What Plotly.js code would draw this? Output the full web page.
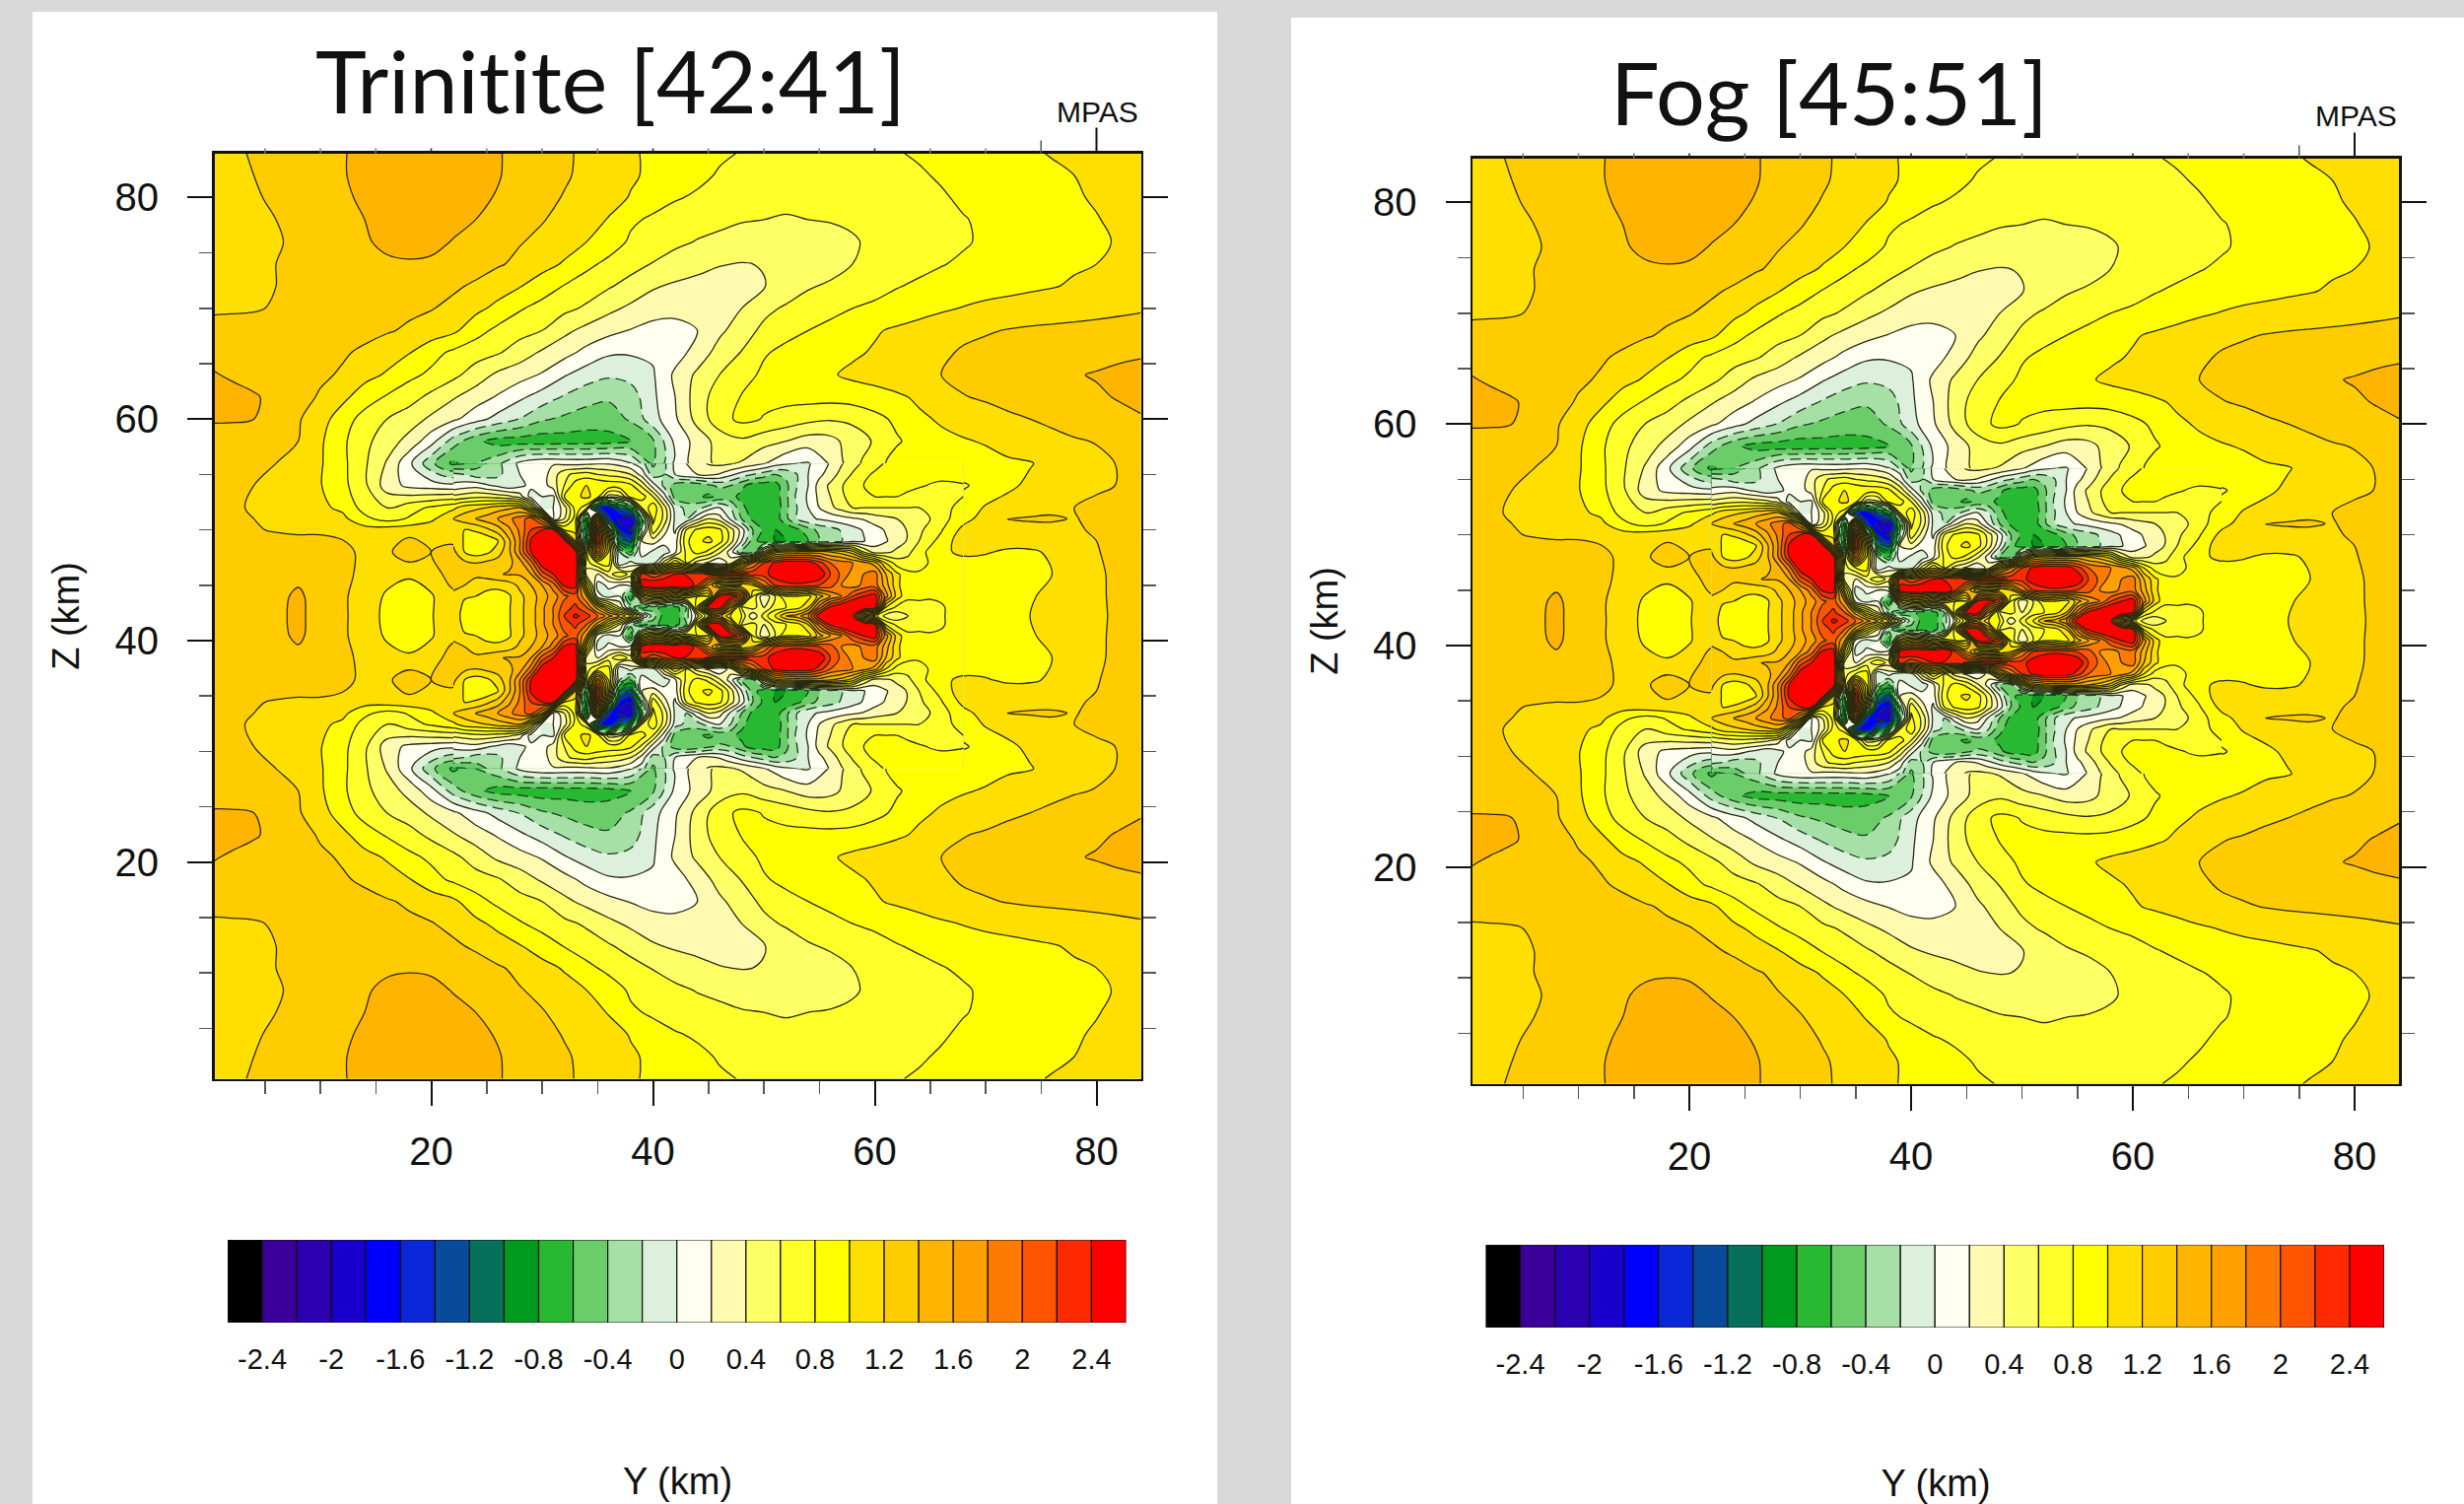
<!DOCTYPE html>
<html><head><meta charset="utf-8">
<script src="https://cdn.plot.ly/plotly-3.0.1.min.js"></script>
<style>html,body{margin:0;padding:0;background:#d9d9d9}#c{width:2500px;height:1526px}svg text.annotation-text{font-variant-ligatures:none !important;letter-spacing:0.01px !important}</style>
</head><body><div id="c"></div>
<script>
const columnsKm=[0.44,2,4,6,8,10,12,14,16,18,20,22,24,26,28,30,32,34,36,38,40,42,44,46,48,50,52,54,56,58,60,62,64,66,68,70,72,74,76,78,80,82,84];
const rowsKm=[84,82,80,78,76,74,72,70,68,66,64,62,60,58,56,54,52,51,50,48,46,44,42.22];
const r84=[1.10,1.16,1.22,1.25,1.30,1.34,1.39,1.44,1.48,1.5,1.5,1.48,1.45,1.41,1.36,1.30,1.23,1.16,1.1,1.02,.97,.93,.88,.83,.79,.76,.74,.73,.73,.74,.76,.79,.82,.85,.88,.91,.94,.98,1.01,1.04,1.07,1.1,1.12];
const r82=[1.12,1.16,1.2,1.25,1.3,1.34,1.39,1.44,1.48,1.5,1.5,1.48,1.46,1.41,1.35,1.28,1.22,1.16,1.08,1.02,.97,.91,.85,.78,.74,.71,.69,.68,.68,.69,.71,.74,.78,.82,.86,.89,.92,.95,.97,1.0,1.04,1.08,1.11];
const r80=[1.14,1.16,1.18,1.23,1.28,1.32,1.37,1.43,1.48,1.5,1.5,1.47,1.43,1.39,1.32,1.25,1.19,1.12,1.06,.99,.88,.82,.77,.71,.68,.65,.63,.62,.63,.65,.67,.71,.75,.78,.83,.87,.9,.93,.96,.98,1.02,1.06,1.1];
const r78=[1.14,1.16,1.18,1.2,1.25,1.28,1.33,1.4,1.45,1.48,1.48,1.45,1.4,1.34,1.26,1.21,1.15,1.07,.99,.83,.77,.7,.67,.64,.61,.6,.59,.6,.61,.63,.66,.69,.72,.76,.79,.83,.87,.9,.93,.96,.99,1.04,1.09];
const r76=[1.16,1.16,1.17,1.19,1.22,1.26,1.31,1.38,1.44,1.47,1.45,1.39,1.33,1.27,1.21,1.16,1.08,1.0,.9,.77,.7,.64,.59,.56,.54,.53,.52,.52,.54,.58,.64,.68,.71,.75,.78,.83,.87,.91,.94,.96,.98,1.01,1.07];
const r74=[1.18,1.18,1.19,1.2,1.21,1.24,1.28,1.33,1.37,1.38,1.37,1.33,1.28,1.22,1.16,1.07,.98,.85,.75,.67,.59,.52,.46,.41,.39,.41,.44,.47,.52,.6,.66,.71,.75,.79,.83,.87,.91,.94,.96,.98,1.0,1.04,1.09];
const r72=[1.16,1.17,1.19,1.2,1.22,1.24,1.27,1.29,1.31,1.31,1.28,1.23,1.17,1.09,1.01,.9,.79,.7,.62,.53,.42,.37,.34,.32,.34,.39,.47,.58,.63,.68,.73,.79,.83,.87,.9,.93,.95,.97,.99,1.02,1.04,1.07,1.11];
const r70=[1.17,1.18,1.19,1.21,1.23,1.24,1.25,1.26,1.26,1.24,1.21,1.15,1.05,.95,.82,.73,.65,.57,.45,.36,.3,.27,.27,.31,.4,.54,.63,.69,.75,.8,.84,.88,.92,.97,1.01,1.04,1.06,1.08,1.1,1.12,1.14,1.16,1.18];
const r68=[1.27,1.26,1.25,1.26,1.27,1.27,1.26,1.25,1.22,1.17,1.11,1.04,.88,.75,.67,.6,.45,.34,.26,.19,.12,.12,.2,.36,.5,.65,.74,.8,.85,.91,.98,1.03,1.08,1.13,1.16,1.18,1.21,1.23,1.24,1.25,1.26,1.27,1.28];
const r66=[1.35,1.34,1.31,1.29,1.27,1.25,1.22,1.17,1.08,1.01,.87,.76,.68,.62,.5,.37,.27,.14,.03,.02,.03,.11,.28,.48,.61,.78,.85,.9,.94,.97,1.02,1.07,1.12,1.17,1.22,1.26,1.28,1.3,1.32,1.33,1.35,1.37,1.38];
const r64=[1.41,1.38,1.33,1.3,1.26,1.23,1.18,1.06,.98,.85,.76,.65,.51,.36,.28,.18,.02,-.1,-.17,-.13,-.02,.24,.44,.6,.72,.84,.9,.94,.98,1.04,1.08,1.12,1.16,1.2,1.26,1.3,1.33,1.35,1.37,1.39,1.41,1.43,1.45];
const r62=[1.45,1.45,1.42,1.35,1.27,1.18,1.05,.9,.78,.68,.55,.42,.3,.18,.04,-.09,-.22,-.32,-.37,-.3,-.04,.2,.5,.7,.81,.84,.86,.87,.87,.89,.92,.97,1.03,1.08,1.19,1.23,1.27,1.31,1.34,1.36,1.38,1.41,1.46];
const r60=[1.42,1.42,1.4,1.3,1.22,1.08,.9,.72,.6,.5,.36,.24,.08,-.07,-.21,-.37,-.44,-.5,-.5,-.37,-.08,.17,.47,.72,.85,.79,.72,.66,.62,.64,.74,.84,.97,1.02,1.05,1.1,1.16,1.2,1.25,1.29,1.33,1.36,1.38];
const r58=[1.31,1.3,1.28,1.25,1.2,1.03,.84,.65,.5,.33,.08,-.3,-.55,-.68,-.7,-.72,-.7,-.7,-.68,-.62,-.43,.05,.28,.48,.56,.47,.4,.3,.33,.5,.62,.78,.87,.96,.99,1.01,1.05,1.1,1.13,1.18,1.21,1.25,1.28];
const r56=[1.26,1.26,1.24,1.2,1.12,1.02,.85,.63,.38,.05,-.35,-.65,-.4,-.25,.05,.17,.15,.15,.18,.02,-.45,.05,.3,.45,.38,.22,.03,-.02,.22,.52,.73,.87,.9,.91,.93,.96,.98,.99,1.05,1.1,1.15,1.21,1.26];
const r54=[1.27,1.26,1.2,1.16,1.1,1.01,.86,.64,.3,.15,.1,.05,.14,.18,.1,.2,.45,.7,.75,.72,.55,.15,-.15,-.28,-.3,-.45,-.35,-.1,.08,.25,.45,.65,.75,.78,.78,.86,.97,1.03,1.08,1.12,1.15,1.21,1.25];
const r52=[1.28,1.23,1.18,1.17,1.12,1.04,.96,.72,.6,.72,.83,.95,1.0,1.25,1.6,1.0,.1,-1.5,-1.0,-1.9,.5,.25,0,-.1,-.25,-.62,-.65,-.55,-.3,-.05,.12,.3,.5,.73,.88,1.02,1.06,1.1,1.16,1.2,1.27,1.3,1.33];
const r51=[1.28,1.25,1.2,1.18,1.15,1.1,1.05,.85,.72,.82,.95,1.2,1.4,1.6,1.9,2.2,-.3,-1.0,-1.5,-2.0,.85,-.05,.15,.3,-.4,-.75,-.45,-.05,.07,.17,.3,.4,.53,.74,.95,1.06,1.21,1.22,1.22,1.19,1.24,1.3,1.33];
const r50=[1.28,1.27,1.21,1.19,1.18,1.18,1.15,1.08,1.1,1.12,1.15,1.1,.95,1.5,2.2,2.55,2.3,.5,-.5,-2.0,.6,-.1,.8,.9,.1,-.5,-.7,-.45,-.28,-.08,.1,.3,.55,.78,1.04,1.1,1.12,1.14,1.15,1.18,1.22,1.3,1.34];
const r48=[1.3,1.3,1.3,1.28,1.27,1.27,1.26,1.15,1.15,1.35,1.2,1.25,1.0,1.3,2.0,2.5,2.6,.6,1.5,.2,0,-.1,.6,.4,-1.5,1.3,1.8,2.0,2.0,1.5,.6,.2,.35,.92,1.02,1.01,.98,.98,1.02,1.1,1.18,1.3,1.35];
const r46=[1.32,1.32,1.33,1.34,1.37,1.33,1.25,1.15,1.05,1.02,1.1,1.3,1.25,1.35,1.6,2.3,2.55,1.0,0,-.5,1.0,1.0,.8,1.8,2.3,2.3,2.5,2.55,2.25,2.1,1.6,.9,.55,.86,.9,.92,.93,.95,1.0,1.07,1.15,1.27,1.36];
const r44=[1.33,1.33,1.33,1.37,1.42,1.35,1.24,1.08,.98,.93,.98,1.15,.95,.92,1.5,1.9,2.15,1.2,.1,-.6,-.3,.6,1.5,2.5,.6,.8,.6,1.0,2.1,2.55,1.5,.5,.45,.83,.87,.9,.93,.98,1.05,1.1,1.16,1.25,1.36];
const r42=[1.33,1.33,1.33,1.38,1.42,1.36,1.24,1.08,.96,.9,.99,1.1,.98,.88,1.3,1.7,2.25,2.2,1.6,-.5,-.7,-.3,1.0,.9,.3,.6,1.0,1.5,2.6,2.6,1.2,.35,.35,.78,.87,.9,.93,1.0,1.06,1.1,1.16,1.24,1.36];
const upperRows=[r84,r82,r80,r78,r76,r74,r72,r70,r68,r66,r64,r62,r60,r58,r56,r54,r52,r51,r50,r48,r46,r44,r42];

// finer reading of the core, km 22..68 every km
const coreColumnsKm=[22,23,24,25,26,27,28,29,30,31,32,33,34,35,36,37,38,39,40,41,42,43,44,45,46,47,48,49,50,51,52,53,54,55,56,57,58,59,60,61,62,63,64,65,66,67,68];
const coreRowsKm=[56,55,54,53,52,51,50,49,48,47,46,45,44,43,42.22];
const p56=[-.65,-.62,-.5,-.4,-.25,-.1,.05,.12,.17,.18,.15,.13,.15,.18,.18,.12,.02,-.12,-.45,-.25,.05,.2,.3,.42,.45,.42,.38,.3,.22,.1,.03,0,-.02,.08,.22,.38,.52,.63,.73,.82,.87,.89,.9,.9,.91,.92,.93];
const p55=[-.15,-.2,-.3,-.3,-.25,-.12,0,.1,.1,.3,.55,.65,.7,.6,.55,.5,.4,.12,-.3,-.2,0,.15,.2,.25,.18,.05,-.1,-.2,-.3,-.4,-.35,-.2,0,.15,.3,.47,.62,.75,.83,.88,.88,.87,.86,.85,.86,.88,.9];
const p54=[.05,.1,.12,.03,-.05,-.15,-.05,.05,.1,.3,.6,.9,1.0,1.0,.95,.95,.85,.55,.1,-.25,-.5,-.6,-.55,-.45,-.35,-.4,-.55,-.7,-.7,-.7,-.45,-.2,0,.28,.44,.58,.72,.8,.86,.87,.87,.85,.82,.79,.76,.76,.78];
const p53=[.45,.5,.55,.55,.5,.45,.3,-.1,0,-.05,.8,.95,1.05,.9,.3,.35,.9,.9,.6,.1,-.5,-.6,-.55,-.65,-.55,-.55,-.65,-.75,-.75,-.72,-.45,-.15,.03,.25,.4,.55,.72,.8,.8,.8,.8,.76,.72,.72,.72,.74,.8];
const p52=[.95,1.1,1.15,1.2,1.3,1.35,1.4,.8,-.1,0,.3,.9,.7,-1.5,-1.8,-1.2,-.8,.6,.95,.5,-.1,-.25,-.3,-.1,0,-.2,-.55,-.7,-.75,-.78,-.45,-.2,0,.2,.35,.48,.6,.6,.6,.6,.6,.6,.6,.65,.7,.8,.88];
const p51=[1.2,1.3,1.4,1.5,1.6,1.75,1.9,2.1,1.6,0,.4,.9,-1.0,1.9,-1.5,-1.9,-2.0,-.6,.85,.55,-.05,-.2,.15,.4,.3,-.05,-.4,-.65,-.75,-.72,-.45,-.2,-.05,.02,.07,.12,.17,.22,.3,.35,.4,.47,.53,.6,.74,.82,.95];
const p50=[1.1,1.0,1.03,1.15,1.3,1.55,1.85,2.2,2.4,2.45,1.0,.9,-1,2.5,.5,-1.6,-1.9,-.3,.75,.3,-.05,.6,.85,.92,.85,.5,.1,-.4,-.65,-.8,-.78,-.65,-.48,-.35,-.28,-.18,-.08,.02,.12,.22,.3,.42,.55,.68,.78,.95,1.04];
const p49=[1.15,.98,.85,.85,.98,1.35,1.8,2.45,2.6,2.7,2.55,1.2,-.8,2.6,1.0,-1.0,-1.3,.2,.3,.1,.1,.75,.95,1.05,.9,.5,0,-.5,-.75,-.8,-.8,-.75,-.6,-.4,-.3,-.22,-.05,-.02,.1,.18,.3,.42,.6,.75,.87,1.0,1.03];
const p48=[1.25,1.0,.9,.95,1.1,1.35,1.8,2.4,2.7,2.8,2.8,2.55,.5,2.0,1.0,-.2,-.6,.15,-.05,-.15,.15,.65,.9,.75,.45,.1,-.4,-.5,.5,1.3,1.4,1.45,1.5,1.5,1.4,1.3,1.1,.6,.3,.35,.45,.55,.72,.85,.92,1.0,1.02];
const p47=[1.32,1.25,1.2,1.25,1.3,1.35,1.5,1.9,2.55,2.8,2.9,2.7,.5,.8,.9,-.2,.1,-.2,-.1,.5,1.0,.6,.3,.15,0,.3,1.2,1.8,2.2,2.45,2.6,2.6,2.55,2.3,2.0,1.9,1.8,1.7,1.5,1.0,.7,.68,.72,.82,.88,.92,.97];
const p46=[1.3,1.28,1.25,1.3,1.38,1.42,1.42,1.6,2.1,2.4,2.8,2.7,.3,.2,.5,.8,.5,2.3,2.0,2.2,2.4,2.35,2.3,2.45,2.5,2.55,2.5,2.35,2.3,2.55,2.7,2.7,2.7,2.6,2.2,1.95,1.72,1.8,1.9,1.4,1.05,.85,.83,.85,.86,.88,.9];
const p45=[1.25,1.2,1.1,1.05,1.05,1.1,1.25,1.4,1.6,1.9,2.45,2.5,1.0,-.1,.05,0,.1,2.5,2.7,2.7,2.65,2.8,2.2,1.6,1.0,.9,1.0,1.2,1.8,2.2,2.3,2.35,2.3,2.2,2.1,1.8,1.7,1.85,1.9,1.5,1.05,.85,.84,.84,.85,.87,.9];
const p44=[1.15,1.02,1.0,.95,.92,.97,1.15,1.3,1.5,1.7,1.95,2.1,1.6,.1,-.1,0,-.8,.8,1.2,1.2,.8,1.0,.8,.8,2.45,2.55,2.3,.8,.2,.6,1.0,1.0,.9,1.3,1.6,1.8,2.2,2.4,2.55,1.7,1.1,.85,.85,.83,.83,.85,.87];
const p43=[1.12,.95,.9,.85,.88,.98,1.15,1.3,1.55,1.8,2.1,2.25,2.0,1.5,.9,.4,-.3,-.7,-.5,-.7,-.7,-.4,1.0,2.5,2.55,1.6,.6,.7,.4,.7,.8,.9,1.2,1.9,2.45,2.7,2.8,2.7,2.45,1.0,.75,.7,.72,.72,.78,.84,.87];
const p42=[1.1,.93,.88,.85,.86,.98,1.15,1.3,1.55,1.8,2.2,2.45,2.3,2.0,1.7,1.4,1.0,.3,-.3,-.7,-.8,-.3,.3,1.0,1.5,1.0,.8,.2,.7,1.0,1.4,1.5,1.8,2.6,2.8,2.8,2.5,1.2,.9,.5,.45,.6,.72,.74,.78,.84,.87];
const coreRows=[p56,p55,p54,p53,p52,p51,p50,p49,p48,p47,p46,p45,p44,p43,p42];

const bandColors=['#000000','#3a0099','#2a00b0','#1a00cc','#0000ff','#0a28d8','#084b9b','#07705a','#009b1e','#28b832','#6acd6a','#a6e0a6','#dcf0dc','#fffff0','#fffab0','#ffff66','#ffff2a','#ffff00','#ffdf00','#ffcc00','#ffb400','#ff9f00','#ff7a00','#ff5500','#ff2a00','#ff0000'];
const bandCentres=[-2.5,-2.3,-2.1,-1.9,-1.7,-1.5,-1.3,-1.1,-0.9,-0.7,-0.5,-0.3,-0.1,0.1,0.3,0.5,0.7,0.9,1.1,1.3,1.5,1.7,1.9,2.1,2.3,2.5];
const barTicks=[-2.4,-2,-1.6,-1.2,-0.8,-0.4,0,0.4,0.8,1.2,1.6,2,2.4];
const barLabels=['-2.4','-2','-1.6','-1.2','-0.8','-0.4','0','0.4','0.8','1.2','1.6','2','2.4'];
const titles=['Trinitite [42:41]','Fog [45:51]'];
const topTicks=[5,10,15,20,25,30,35,40,45,50,55,60,65,70];

// the field is mirror-symmetric about mid-height in the picture (z = 42.22)
const mirrorZ=rows=>rows.concat(rows.slice(0,-1).reverse()).reverse();
const mirrorY=ys=>ys.concat(ys.slice(0,-1).reverse().map(v=>84.44-v)).reverse();
const cs=bandColors.map((c,i)=>[i/25,c]);
const W=2500,H=1526,FONT='"Liberation Sans",Arial,sans-serif';
const px=(a,b)=>[a/W,b/W], py=(a,b)=>[1-b/H,1-a/H];
const panels=[{dx:0,dy:0,s:'',b:'3',tx:619,ty:81},{dx:1276.5,dy:5,s:'2',b:'4',tx:1856,ty:93}];
const traces=[],layout={width:W,height:H,margin:{l:0,r:0,t:0,b:0},paper_bgcolor:'#d9d9d9',plot_bgcolor:'#fff',showlegend:false,
 shapes:[{type:'rect',xref:'paper',yref:'paper',x0:33/W,x1:1235/W,y0:0,y1:1-12/H,fillcolor:'#fff',line:{width:0},layer:'below'},
         {type:'rect',xref:'paper',yref:'paper',x0:1310/W,x1:1,y0:0,y1:1-18/H,fillcolor:'#fff',line:{width:0},layer:'below'}],
 annotations:[]};
panels.forEach((p,k)=>{
 const xa='x'+p.s,ya='y'+p.s,xk='xaxis'+p.s,yk='yaxis'+p.s;
 const ax={xaxis:xa,yaxis:ya,type:'contour',showscale:false,autocontour:false,hoverinfo:'skip'};
 [{x:columnsKm,y:mirrorY(rowsKm),z:mirrorZ(upperRows)},{x:coreColumnsKm,y:mirrorY(coreRowsKm),z:mirrorZ(coreRows)}].forEach(g=>{
  const base={...ax,...g};
  traces.push({...base,colorscale:cs,zmin:-2.5,zmax:2.5,contours:{start:-2.4,end:2.4,size:0.2,coloring:'fill',showlines:false},line:{width:0,smoothing:1}});
  traces.push({...base,contours:{start:0,end:2.4,size:0.2,coloring:'none'},line:{width:1.3,color:'#2a2a10',smoothing:1}});
  traces.push({...base,contours:{start:-2.4,end:-0.2,size:0.2,coloring:'none'},line:{width:1.3,color:'#1a3a1a',dash:'11px,6px',smoothing:1}});
 });
 const axCommon={range:[0.44,84],tickvals:[20,40,60,80],ticktext:['20','40','60','80'],tickmode:'array',ticks:'outside',ticklen:25,tickwidth:2,tickcolor:'#111',
   showline:true,linewidth:2.5,linecolor:'#111',showgrid:false,zeroline:false,tickfont:{family:FONT,size:40,color:'#111'},
   minor:{dtick:5,tick0:0,ticks:'outside',ticklen:13,tickwidth:1.5,tickcolor:'#555',showgrid:false}};
 layout[xk]={...axCommon,mirror:true,ticklabelstandoff:12,anchor:ya,domain:px(217.5+p.dx,1157.5+p.dx),title:{text:'Y (km)',font:{family:FONT,size:38,color:'#111'},standoff:301}};
 layout[yk]={...axCommon,mirror:'ticks',ticklabelstandoff:21,anchor:xa,domain:py(155.5+p.dy,1094.5+p.dy),title:{text:'Z (km)',font:{family:FONT,size:38,color:'#111'},standoff:24}};
 const topY=1-(155.5+p.dy)/H;
 topTicks.forEach(v=>layout.shapes.push({type:'line',xref:xa,yref:'paper',x0:v,x1:v,y0:topY,y1:topY+5/H,line:{color:v%20?'#777':'#222',width:1.5}}));
 layout.shapes.push({type:'line',xref:xa,yref:'paper',x0:75,x1:75,y0:topY,y1:topY+13/H,line:{color:'#555',width:1.5}});
 layout.shapes.push({type:'line',xref:xa,yref:'paper',x0:80,x1:80,y0:topY,y1:topY+26/H,line:{color:'#111',width:2}});
 const xb='x'+p.b,yb='y'+p.b;
 traces.push({type:'bar',x:bandCentres,y:bandCentres.map(()=>1),width:0.2,xaxis:xb,yaxis:yb,hoverinfo:'skip',marker:{color:bandColors,line:{color:'#111',width:1.2}}});
 layout['xaxis'+p.b]={anchor:yb,domain:px(231+p.dx,1142.5+p.dx),range:[-2.6,2.6],tickmode:'array',tickvals:barTicks,ticktext:barLabels,ticks:'',showgrid:false,zeroline:false,showline:false,tickfont:{family:FONT,size:29,color:'#111'},ticklabelstandoff:17};
 layout['yaxis'+p.b]={anchor:xb,domain:py(1258+p.dy,1342+p.dy),range:[0,1],showticklabels:false,ticks:'',showgrid:false,zeroline:false,showline:false};
 layout.annotations.push({text:titles[k],xref:'paper',yref:'paper',x:p.tx/W,y:1-p.ty/H,xanchor:'center',yanchor:'middle',showarrow:false,font:{family:'Lato,"Open Sans",sans-serif',size:88,color:'#111'}});
 layout.annotations.push({text:'MPAS',xref:'paper',yref:'paper',x:(1113.5+p.dx)/W,y:1-(113+p.dy)/H,xanchor:'center',yanchor:'middle',showarrow:false,font:{family:FONT,size:30,color:'#111'}});
});
Plotly.newPlot('c',traces,layout,{staticPlot:true,displayModeBar:false});
</script></body></html>
